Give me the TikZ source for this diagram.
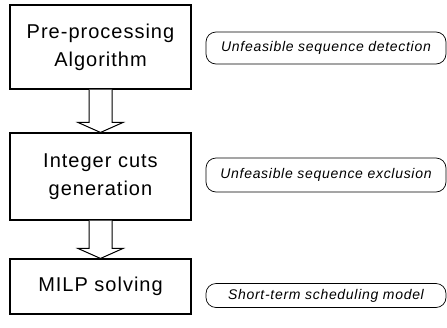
\documentclass[tikz,border=0pt]{standalone}
\usepackage{fontspec}
\setmainfont{Liberation Sans}[LetterSpace=5]
\usetikzlibrary{calc}

\tikzset{
  stage/.style={draw, line width=1.1pt, minimum width=181pt, inner sep=0pt, align=center, font=\fontsize{20}{28}\selectfont},
  note/.style={draw, rounded corners=10pt, line width=0.7pt, minimum width=240pt, inner sep=0pt, font=\fontsize{14}{16}\selectfont\itshape},
  blockarrow/.style={draw, line width=1pt, fill=white, line join=miter}
}

% hollow arrow from the bottom of one stage to the top of the next
\newcommand{\stagearrow}[2]{
  \draw[blockarrow] ($(#1.south)+(-11.5,0)$) -- ($(#2.north)+(-11.5,-10)$) -- ($(#2.north)+(-22.5,-10)$) -- (#2.north)
    -- ($(#2.north)+(22.5,-10)$) -- ($(#2.north)+(11.5,-10)$) -- ($(#1.south)+(11.5,0)$);
}

\begin{document}
\begin{tikzpicture}[x=1pt,y=1pt,yscale=-1]
    \useasboundingbox (0,0) rectangle (447,327);

    \node[stage, minimum height=84pt] (prep) at (100.5,47) {Pre-processing\\Algorithm};
    \node[stage, minimum height=87pt] (cuts) at (100.5,176.5) {Integer cuts\\generation};
    \node[stage, minimum height=55pt] (milp) at (100.5,286.5) {MILP solving};

    \stagearrow{prep}{cuts}
    \stagearrow{cuts}{milp}

    \node[note, minimum height=32pt] (detect) at (326,48) {Unfeasible sequence detection};
    \node[note, minimum height=34pt] (exclude) at (326,175) {Unfeasible sequence exclusion};
    \node[note, minimum height=24pt] (model) at (326,295.5) {Short-term scheduling model};
\end{tikzpicture}
\end{document}
